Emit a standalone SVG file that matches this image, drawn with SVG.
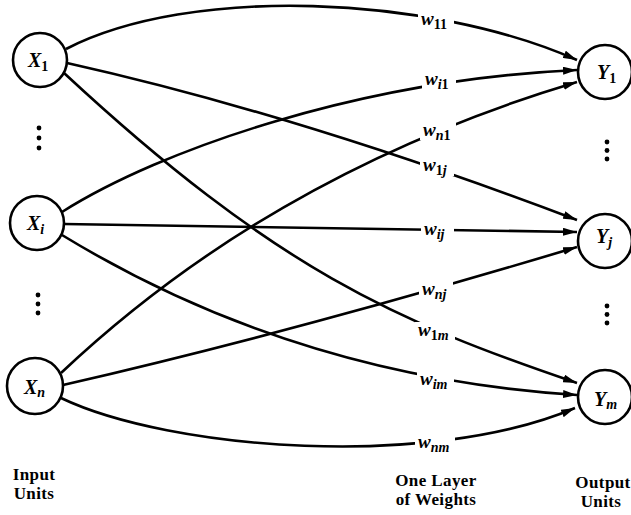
<svg xmlns="http://www.w3.org/2000/svg" width="631" height="515" viewBox="0 0 631 515">
<style>
.node{fill:#fff;stroke:#000;stroke-width:2.6}
.edge{fill:none;stroke:#000;stroke-width:2.6}
.bg{fill:#fff}
.lbl{font-family:"Liberation Serif","DejaVu Serif",serif;font-weight:bold;fill:#000}
.it{font-style:italic}
.w{font-size:19px;font-style:italic}
.sub{font-size:14px}
.nl{font-size:20px;font-style:italic}
.cap{font-family:"Liberation Serif","DejaVu Serif",serif;font-weight:bold;font-size:17px;text-anchor:middle;fill:#000;letter-spacing:0.4px}
.dot{fill:#000}
</style>
<defs>
<marker id="arr" viewBox="0 0 14 8" refX="14" refY="4" markerWidth="14" markerHeight="8" markerUnits="userSpaceOnUse" orient="auto">
<path d="M0,0 L14,4 L0,8 z" fill="#000"/>
</marker>
</defs>
<g id="connectors">
<path class="edge" marker-end="url(#arr)" d="M66,49 C190,-15 430,-5 577,60"/>
<path class="edge" marker-end="url(#arr)" d="M67,63 Q300,115 577,220"/>
<path class="edge" marker-end="url(#arr)" d="M64,73 C275,269 397,322 577,383"/>
<path class="edge" marker-end="url(#arr)" d="M62,212 C160,150 360,80 577,70"/>
<path class="edge" marker-end="url(#arr)" d="M64,224 L577,232"/>
<path class="edge" marker-end="url(#arr)" d="M62,235 Q295,377 577,395"/>
<path class="edge" marker-end="url(#arr)" d="M61,373 Q273,173 577,82"/>
<path class="edge" marker-end="url(#arr)" d="M63,385 Q298,331 577,247"/>
<path class="edge" marker-end="url(#arr)" d="M61,398 C170,450 430,470 575,408"/>
</g>
<g id="weights">
<rect class="bg" x="418" y="11" width="36" height="18"/>
<text class="lbl" x="421" y="25"><tspan class="w">w</tspan><tspan class="sub" dy="4">11</tspan></text>
<rect class="bg" x="422" y="73" width="34" height="18"/>
<text class="lbl" x="425" y="85"><tspan class="w">w</tspan><tspan class="sub it" dy="4">i</tspan><tspan class="sub">1</tspan></text>
<rect class="bg" x="420" y="122" width="36" height="18"/>
<text class="lbl" x="423" y="136"><tspan class="w">w</tspan><tspan class="sub it" dy="4">n</tspan><tspan class="sub">1</tspan></text>
<rect class="bg" x="420" y="158" width="34" height="18"/>
<text class="lbl" x="423" y="171"><tspan class="w">w</tspan><tspan class="sub" dy="4">1</tspan><tspan class="sub it">j</tspan></text>
<rect class="bg" x="421" y="222" width="33" height="18"/>
<text class="lbl" x="424" y="235"><tspan class="w">w</tspan><tspan class="sub it" dy="4">ij</tspan></text>
<rect class="bg" x="419" y="281" width="34" height="18"/>
<text class="lbl" x="422" y="295"><tspan class="w">w</tspan><tspan class="sub it" dy="4">nj</tspan></text>
<rect class="bg" x="415" y="322" width="40" height="18"/>
<text class="lbl" x="418" y="336"><tspan class="w">w</tspan><tspan class="sub" dy="4">1</tspan><tspan class="sub it">m</tspan></text>
<rect class="bg" x="417" y="371" width="37" height="18"/>
<text class="lbl" x="420" y="385"><tspan class="w">w</tspan><tspan class="sub it" dy="4">im</tspan></text>
<rect class="bg" x="415" y="434" width="40" height="18"/>
<text class="lbl" x="418" y="448"><tspan class="w">w</tspan><tspan class="sub it" dy="4">nm</tspan></text>
</g>
<g id="X1">
<circle class="node" cx="40" cy="60" r="27"/>
<text class="lbl" x="28" y="67"><tspan class="nl">X</tspan><tspan class="sub" dy="4">1</tspan></text>
</g>
<g id="Xi">
<circle class="node" cx="37" cy="223" r="27"/>
<text class="lbl" x="27" y="230"><tspan class="nl">X</tspan><tspan class="sub it" dy="4">i</tspan></text>
</g>
<g id="Xn">
<circle class="node" cx="35" cy="386" r="28"/>
<text class="lbl" x="24" y="394"><tspan class="nl">X</tspan><tspan class="sub it" dy="3">n</tspan></text>
</g>
<g id="Y1">
<circle class="node" cx="605" cy="72" r="27"/>
<text class="lbl" x="597" y="79"><tspan class="nl">Y</tspan><tspan class="sub" dy="4">1</tspan></text>
</g>
<g id="Yj">
<circle class="node" cx="605" cy="241" r="27"/>
<text class="lbl" x="596" y="243"><tspan class="nl">Y</tspan><tspan class="sub it" dy="4">j</tspan></text>
</g>
<g id="Ym">
<circle class="node" cx="605" cy="397" r="27"/>
<text class="lbl" x="594" y="406"><tspan class="nl">Y</tspan><tspan class="sub it" dy="3">m</tspan></text>
</g>
<g id="dots-left-1"><circle class="dot" cx="39" cy="128" r="2.4"/><circle class="dot" cx="39" cy="138" r="2.4"/><circle class="dot" cx="39" cy="148" r="2.4"/></g>
<g id="dots-left-2"><circle class="dot" cx="38" cy="295" r="2.4"/><circle class="dot" cx="38" cy="304" r="2.4"/><circle class="dot" cx="38" cy="313" r="2.4"/></g>
<g id="dots-right-1"><circle class="dot" cx="607" cy="142" r="2.4"/><circle class="dot" cx="607" cy="150.5" r="2.4"/><circle class="dot" cx="607" cy="159" r="2.4"/></g>
<g id="dots-right-2"><circle class="dot" cx="607" cy="306" r="2.4"/><circle class="dot" cx="607" cy="314.5" r="2.4"/><circle class="dot" cx="607" cy="323" r="2.4"/></g>
<g id="captions">
<text class="cap" x="34" y="480">Input</text>
<text class="cap" x="34" y="499">Units</text>
<text class="cap" x="436" y="486">One Layer</text>
<text class="cap" x="436" y="505">of Weights</text>
<text class="cap" x="603" y="488">Output</text>
<text class="cap" x="601" y="507">Units</text>
</g>
</svg>
